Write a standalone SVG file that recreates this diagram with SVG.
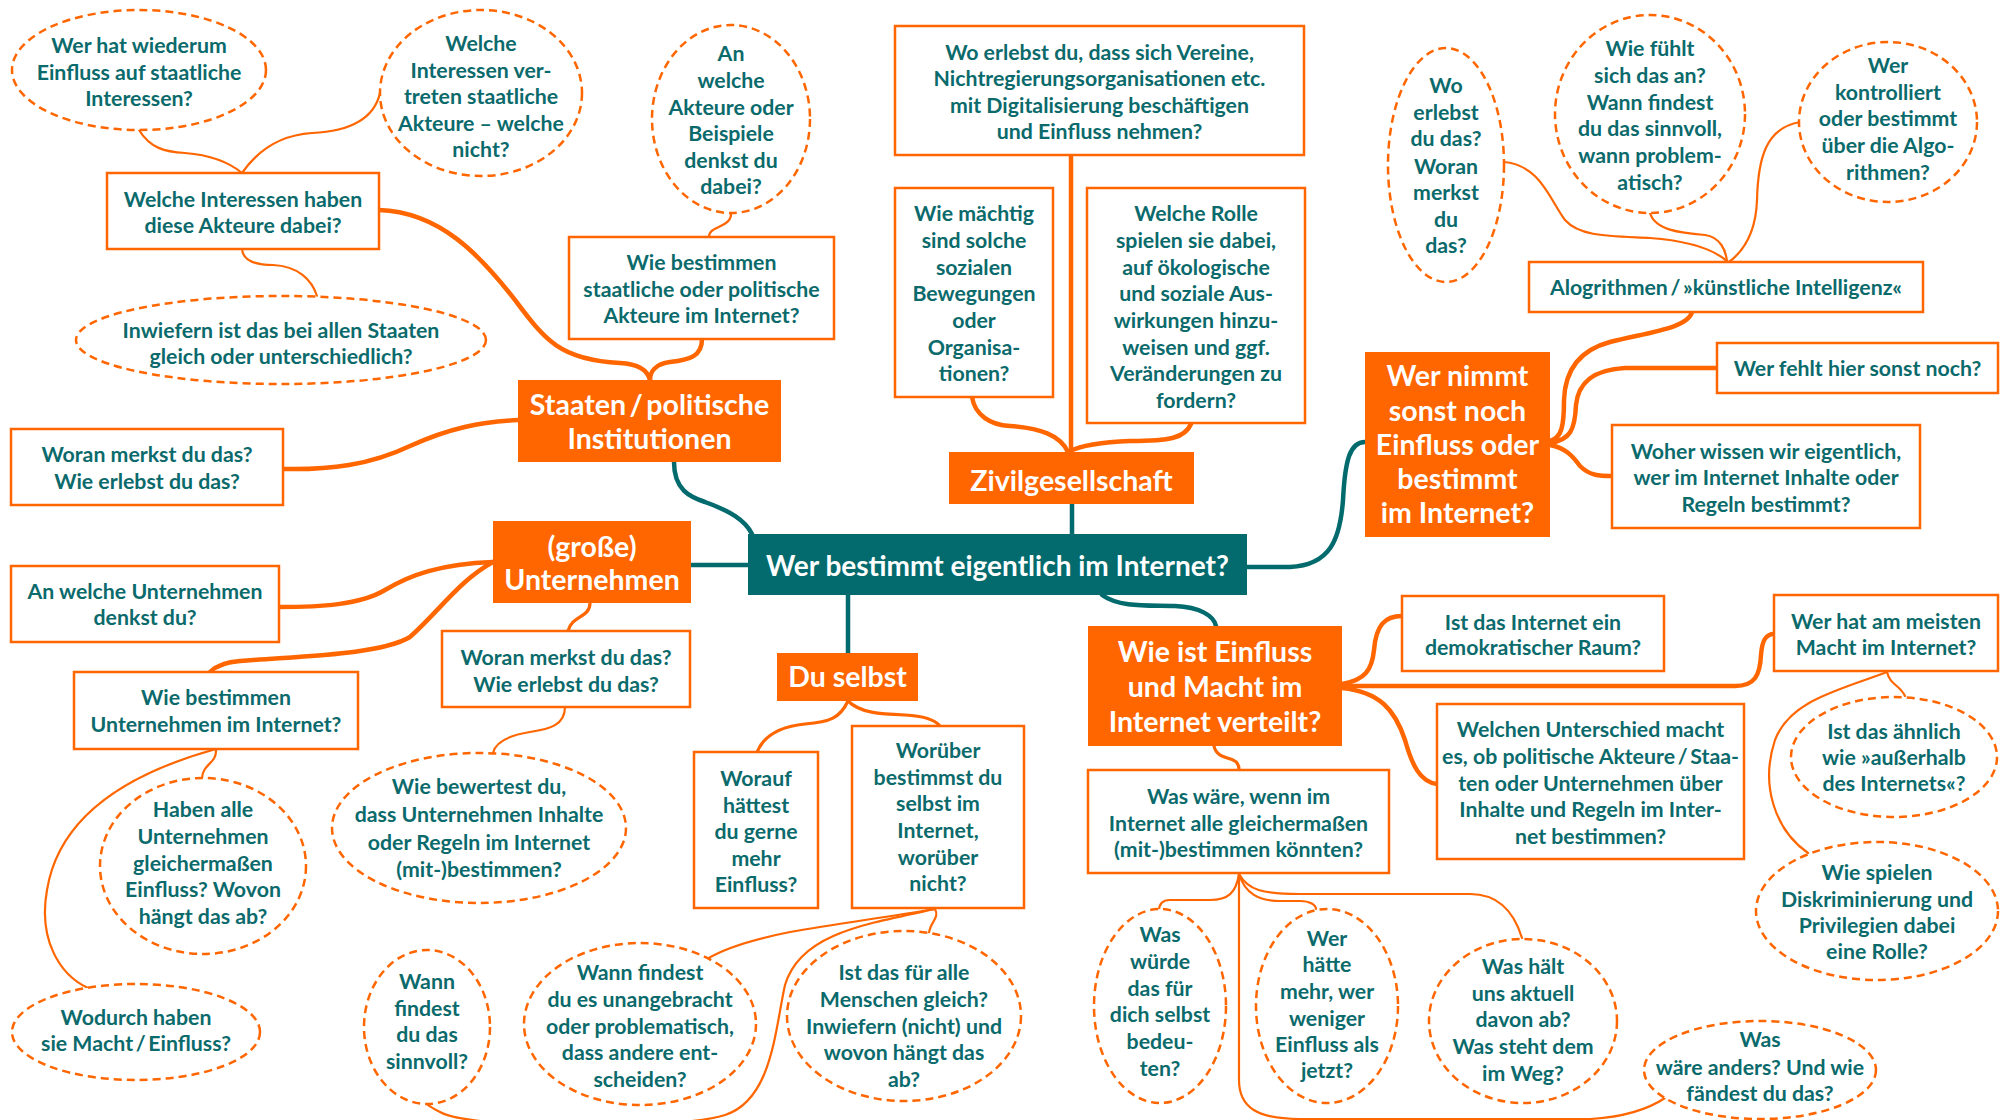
<svg xmlns="http://www.w3.org/2000/svg" width="2007" height="1120" viewBox="0 0 2007 1120">
<style>
text{font-family:Lato,"Open Sans","Liberation Sans",sans-serif;font-weight:700;font-size:21.3px;fill:#0b6a6b;text-anchor:middle}
.box{fill:#fff;stroke:#ff6600;stroke-width:2.5}
.ell{fill:#fff;stroke:#ff6600;stroke-width:2.5;stroke-dasharray:8 5}
.hub{fill:#ff6600}
.hubt{fill:#fff;font-size:28.5px}
.root{fill:#036b6d}
.roott{fill:#fff;font-size:28px}
#connectors path{fill:none;stroke-linecap:round}
.t{stroke:#036b6d;stroke-width:4.5}
.o1{stroke:#ff6600;stroke-width:4.5}
.o2{stroke:#ff6600;stroke-width:3.2}
.o3{stroke:#ff6600;stroke-width:2.2}
</style>
<rect width="2007" height="1120" fill="#fff"/>
<g id="connectors">
<path class="t" d="M674,462 C674,490 690,497 705,502 C730,511 745,520 752,534"/>
<path class="t" d="M691,565 L748,565"/>
<path class="t" d="M848,595 L848,653"/>
<path class="t" d="M1072,504 L1072,534"/>
<path class="t" d="M1247,567 L1290,567 C1330,565 1340,540 1343,500 C1345,460 1350,442 1365,442"/>
<path class="t" d="M1102,595 C1120,608 1150,605 1175,606 C1200,607 1214,616 1216,626"/>
<path class="o1" d="M379,210 C440,212 480,255 515,300 C545,340 560,360 620,363 C640,364 648,372 650,380"/>
<path class="o1" d="M702,339 C702,356 690,360 670,362 C655,364 650,372 650,380"/>
<path class="o1" d="M283,469 C330,470 370,465 410,446 C450,428 480,422 518,420"/>
<path class="o1" d="M493,562 C440,564 410,575 385,590 C360,605 320,607 279,607"/>
<path class="o1" d="M493,562 C460,580 440,610 410,637 C380,655 300,656 240,661 C225,662 215,667 210,672"/>
<path class="o2" d="M590,603 C590,618 572,615 568,631"/>
<path class="o1" d="M972,397 C975,415 990,425 1010,426 C1040,428 1060,435 1068,452"/>
<path class="o1" d="M1191,424 C1185,438 1170,441 1130,441 C1100,442 1080,446 1068,452"/>
<path class="o1" d="M1071,155 L1071,452"/>
<path class="o2" d="M848,701 C840,718 830,722 805,724 C775,727 762,740 757,752"/>
<path class="o2" d="M848,701 C860,713 880,714 905,715 C925,716 935,720 940,726"/>
<path class="o1" d="M1550,441 C1562,438 1564,425 1564,400 C1565,370 1580,350 1610,342 C1650,332 1688,328 1692,312"/>
<path class="o1" d="M1550,443 C1570,440 1575,430 1576,405 C1578,385 1590,370 1625,368 L1717,368"/>
<path class="o1" d="M1550,445 C1565,448 1572,455 1580,466 C1590,476 1600,476 1612,476"/>
<path class="o1" d="M1342,684 C1365,680 1372,670 1374,650 C1376,625 1385,616 1402,616"/>
<path class="o1" d="M1342,686 L1735,686 C1755,686 1760,675 1761,655 C1762,640 1766,634 1774,634"/>
<path class="o1" d="M1342,688 C1380,692 1395,710 1405,740 C1412,765 1420,782 1437,784"/>
<path class="o2" d="M1214,746 C1216,756 1225,757 1233,760 C1238,762 1239,766 1239,770"/>
<path class="o3" d="M139,130 C150,148 165,152 185,153 C210,155 230,163 242,173"/>
<path class="o3" d="M242,173 C258,150 280,135 312,133 C355,131 375,115 380,93"/>
<path class="o3" d="M242,249 C243,262 258,265 273,265 C298,266 312,280 317,296"/>
<path class="o3" d="M731,213 C732,224 718,226 713,230 C710,232 709,235 709,237"/>
<path class="o3" d="M1504,162 C1540,165 1550,200 1565,220 C1580,237 1610,236 1650,238 C1690,241 1715,250 1728,262"/>
<path class="o3" d="M1650,213 C1655,230 1680,233 1705,235 C1720,237 1726,250 1727,262"/>
<path class="o3" d="M1800,122 C1765,128 1758,160 1757,200 C1756,230 1745,250 1729,262"/>
<path class="o3" d="M565,707 C565,725 550,729 530,732 C505,736 495,744 493,753"/>
<path class="o3" d="M216,749 C217,764 203,763 202,778"/>
<path class="o3" d="M216,749 C140,770 60,810 47,890 C38,940 60,975 88,988"/>
<path class="o3" d="M935,909 C880,918 830,925 790,932 C750,940 725,948 707,959"/>
<path class="o3" d="M935,909 C940,918 930,922 929,933"/>
<path class="o3" d="M935,909 C860,925 800,935 785,985 C775,1030 772,1100 725,1115 C680,1130 470,1130 440,1112 C432,1108 429,1106 427,1104"/>
<path class="o3" d="M1239,874 C1236,893 1228,900 1210,900 L1170,900 C1162,900 1159,905 1159,911"/>
<path class="o3" d="M1239,874 C1245,893 1258,901 1280,901 L1300,901 C1310,901 1316,905 1316,909"/>
<path class="o3" d="M1239,874 C1248,890 1262,894 1300,894 L1470,894 C1500,894 1515,915 1522,938"/>
<path class="o3" d="M1239,874 L1239,1080 C1239,1108 1258,1119 1300,1119 L1590,1119 C1625,1117 1650,1108 1665,1098"/>
<path class="o3" d="M1887,672 C1890,685 1900,685 1905,696"/>
<path class="o3" d="M1887,672 C1840,690 1790,700 1775,740 C1760,785 1775,830 1808,853"/>
</g>

<g id="root"><rect class="root" x="748" y="534" width="499" height="61"/><text class="roott" x="997.5" y="576">Wer bestimmt eigentlich im Internet?</text></g>

<g id="staaten"><rect class="hub" x="518" y="380" width="263" height="82"/><text class="hubt"><tspan x="649.5" y="415">Staaten&#8201;/&#8201;politische</tspan><tspan x="649.5" y="449">Institutionen</tspan></text></g>
<g id="unternehmen"><rect class="hub" x="493" y="521" width="198" height="82"/><text class="hubt"><tspan x="592" y="557">(große)</tspan><tspan x="592" y="590">Unternehmen</tspan></text></g>
<g id="duselbst"><rect class="hub" x="777" y="653" width="141" height="48"/><text class="hubt" x="847.5" y="687">Du selbst</text></g>
<g id="zivil"><rect class="hub" x="949" y="452" width="245" height="52"/><text class="hubt" x="1071.5" y="491">Zivilgesellschaft</text></g>
<g id="wernimmt"><rect class="hub" x="1365" y="352" width="185" height="185"/><text class="hubt"><tspan x="1457.5" y="386">Wer nimmt</tspan><tspan x="1457.5" y="421">sonst noch</tspan><tspan x="1457.5" y="455">Einfluss oder</tspan><tspan x="1457.5" y="489">bestimmt</tspan><tspan x="1457.5" y="523">im Internet?</tspan></text></g>
<g id="verteilt"><rect class="hub" x="1088" y="626" width="254" height="120"/><text class="hubt"><tspan x="1215" y="662">Wie ist Einfluss</tspan><tspan x="1215" y="697">und Macht im</tspan><tspan x="1215" y="732">Internet verteilt?</tspan></text></g>

<g id="n1"><ellipse class="ell" cx="139" cy="70" rx="127" ry="60"/><text><tspan x="139" y="53">Wer hat wiederum</tspan><tspan x="139" y="80">Einfluss auf staatliche</tspan><tspan x="139" y="106">Interessen?</tspan></text></g>
<g id="n2"><ellipse class="ell" cx="481" cy="93" rx="101" ry="83"/><text><tspan x="481" y="51">Welche</tspan><tspan x="481" y="78">Interessen ver-</tspan><tspan x="481" y="104">treten staatliche</tspan><tspan x="481" y="131">Akteure – welche</tspan><tspan x="481" y="157">nicht?</tspan></text></g>
<g id="n3"><rect class="box" x="107" y="173" width="272" height="76"/><text><tspan x="243" y="207">Welche Interessen haben</tspan><tspan x="243" y="233">diese Akteure dabei?</tspan></text></g>
<g id="n4"><ellipse class="ell" cx="281" cy="340" rx="205" ry="44"/><text><tspan x="281" y="338">Inwiefern ist das bei allen Staaten</tspan><tspan x="281" y="364">gleich oder unterschiedlich?</tspan></text></g>
<g id="n5"><ellipse class="ell" cx="731" cy="119" rx="79" ry="94"/><text><tspan x="731" y="61">An</tspan><tspan x="731" y="88">welche</tspan><tspan x="731" y="115">Akteure oder</tspan><tspan x="731" y="141">Beispiele</tspan><tspan x="731" y="168">denkst du</tspan><tspan x="731" y="194">dabei?</tspan></text></g>
<g id="n6"><rect class="box" x="569" y="237" width="265" height="102"/><text><tspan x="701.5" y="270">Wie bestimmen</tspan><tspan x="701.5" y="297">staatliche oder politische</tspan><tspan x="701.5" y="323">Akteure im Internet?</tspan></text></g>
<g id="n7"><rect class="box" x="895" y="26" width="409" height="129"/><text><tspan x="1099.5" y="60">Wo erlebst du, dass sich Vereine,</tspan><tspan x="1099.5" y="86">Nichtregierungsorganisationen etc.</tspan><tspan x="1099.5" y="113">mit Digitalisierung beschäftigen</tspan><tspan x="1099.5" y="139">und Einfluss nehmen?</tspan></text></g>
<g id="n8"><rect class="box" x="895" y="188" width="158" height="209"/><text><tspan x="974" y="221">Wie mächtig</tspan><tspan x="974" y="248">sind solche</tspan><tspan x="974" y="275">sozialen</tspan><tspan x="974" y="301">Bewegungen</tspan><tspan x="974" y="328">oder</tspan><tspan x="974" y="355">Organisa-</tspan><tspan x="974" y="381">tionen?</tspan></text></g>
<g id="n9"><rect class="box" x="1087" y="188" width="218" height="235"/><text><tspan x="1196" y="221">Welche Rolle</tspan><tspan x="1196" y="248">spielen sie dabei,</tspan><tspan x="1196" y="275">auf ökologische</tspan><tspan x="1196" y="301">und soziale Aus-</tspan><tspan x="1196" y="328">wirkungen hinzu-</tspan><tspan x="1196" y="355">weisen und ggf.</tspan><tspan x="1196" y="381">Veränderungen zu</tspan><tspan x="1196" y="408">fordern?</tspan></text></g>
<g id="n10"><ellipse class="ell" cx="1446" cy="165" rx="58" ry="117"/><text><tspan x="1446" y="93">Wo</tspan><tspan x="1446" y="120">erlebst</tspan><tspan x="1446" y="146">du das?</tspan><tspan x="1446" y="174">Woran</tspan><tspan x="1446" y="200">merkst</tspan><tspan x="1446" y="227">du</tspan><tspan x="1446" y="253">das?</tspan></text></g>
<g id="n11"><ellipse class="ell" cx="1650" cy="114" rx="95" ry="99"/><text><tspan x="1650" y="56">Wie fühlt</tspan><tspan x="1650" y="83">sich das an?</tspan><tspan x="1650" y="110">Wann findest</tspan><tspan x="1650" y="136">du das sinnvoll,</tspan><tspan x="1650" y="163">wann problem-</tspan><tspan x="1650" y="190">atisch?</tspan></text></g>
<g id="n12"><ellipse class="ell" cx="1888" cy="122" rx="89" ry="80"/><text><tspan x="1888" y="73">Wer</tspan><tspan x="1888" y="100">kontrolliert</tspan><tspan x="1888" y="126">oder bestimmt</tspan><tspan x="1888" y="153">über die Algo-</tspan><tspan x="1888" y="180">rithmen?</tspan></text></g>
<g id="n13"><rect class="box" x="1529" y="262" width="394" height="50"/><text x="1726" y="295">Alogrithmen&#8201;/&#8201;»künstliche Intelligenz«</text></g>
<g id="n15"><rect class="box" x="1717" y="343" width="281" height="50"/><text x="1857.5" y="376">Wer fehlt hier sonst noch?</text></g>
<g id="n16"><rect class="box" x="1612" y="425" width="308" height="103"/><text><tspan x="1766" y="459">Woher wissen wir eigentlich,</tspan><tspan x="1766" y="485">wer im Internet Inhalte oder</tspan><tspan x="1766" y="512">Regeln bestimmt?</tspan></text></g>
<g id="n20"><rect class="box" x="11" y="429" width="272" height="76"/><text><tspan x="147" y="462">Woran merkst du das?</tspan><tspan x="147" y="489">Wie erlebst du das?</tspan></text></g>
<g id="n21"><rect class="box" x="11" y="566" width="268" height="76"/><text><tspan x="145" y="599">An welche Unternehmen</tspan><tspan x="145" y="625">denkst du?</tspan></text></g>
<g id="n22"><rect class="box" x="74" y="672" width="284" height="77"/><text><tspan x="216" y="705">Wie bestimmen</tspan><tspan x="216" y="732">Unternehmen im Internet?</tspan></text></g>
<g id="n23"><rect class="box" x="442" y="631" width="248" height="76"/><text><tspan x="566" y="665">Woran merkst du das?</tspan><tspan x="566" y="692">Wie erlebst du das?</tspan></text></g>
<g id="n23b"><ellipse class="ell" cx="479" cy="828" rx="147" ry="75"/><text><tspan x="479" y="794">Wie bewertest du,</tspan><tspan x="479" y="822">dass Unternehmen Inhalte</tspan><tspan x="479" y="850">oder Regeln im Internet</tspan><tspan x="479" y="877">(mit-)bestimmen?</tspan></text></g>
<g id="n24"><ellipse class="ell" cx="203" cy="866" rx="103" ry="88"/><text><tspan x="203" y="817">Haben alle</tspan><tspan x="203" y="844">Unternehmen</tspan><tspan x="203" y="871">gleichermaßen</tspan><tspan x="203" y="897">Einfluss? Wovon</tspan><tspan x="203" y="924">hängt das ab?</tspan></text></g>
<g id="n25"><ellipse class="ell" cx="136" cy="1032" rx="124" ry="48"/><text><tspan x="136" y="1025">Wodurch haben</tspan><tspan x="136" y="1051">sie Macht&#8201;/&#8201;Einfluss?</tspan></text></g>
<g id="n26"><ellipse class="ell" cx="427" cy="1027" rx="63" ry="77"/><text><tspan x="427" y="989">Wann</tspan><tspan x="427" y="1016">findest</tspan><tspan x="427" y="1042">du das</tspan><tspan x="427" y="1069">sinnvoll?</tspan></text></g>
<g id="n27"><rect class="box" x="694" y="752" width="124" height="156"/><text><tspan x="756" y="786">Worauf</tspan><tspan x="756" y="813">hättest</tspan><tspan x="756" y="839">du gerne</tspan><tspan x="756" y="866">mehr</tspan><tspan x="756" y="892">Einfluss?</tspan></text></g>
<g id="n28"><rect class="box" x="852" y="726" width="172" height="182"/><text><tspan x="938" y="758">Worüber</tspan><tspan x="938" y="785">bestimmst du</tspan><tspan x="938" y="811">selbst im</tspan><tspan x="938" y="838">Internet,</tspan><tspan x="938" y="865">worüber</tspan><tspan x="938" y="891">nicht?</tspan></text></g>
<g id="n29"><ellipse class="ell" cx="640" cy="1024" rx="116" ry="81"/><text><tspan x="640" y="980">Wann findest</tspan><tspan x="640" y="1007">du es unangebracht</tspan><tspan x="640" y="1034">oder problematisch,</tspan><tspan x="640" y="1060">dass andere ent-</tspan><tspan x="640" y="1087">scheiden?</tspan></text></g>
<g id="n30"><ellipse class="ell" cx="904" cy="1016" rx="117" ry="85"/><text><tspan x="904" y="980">Ist das für alle</tspan><tspan x="904" y="1007">Menschen gleich?</tspan><tspan x="904" y="1034">Inwiefern (nicht) und</tspan><tspan x="904" y="1060">wovon hängt das</tspan><tspan x="904" y="1087">ab?</tspan></text></g>
<g id="n32"><rect class="box" x="1402" y="596" width="262" height="75"/><text><tspan x="1533" y="630">Ist das Internet ein</tspan><tspan x="1533" y="655">demokratischer Raum?</tspan></text></g>
<g id="n33"><rect class="box" x="1774" y="595" width="224" height="76"/><text><tspan x="1886" y="629">Wer hat am meisten</tspan><tspan x="1886" y="655">Macht im Internet?</tspan></text></g>
<g id="n34"><rect class="box" x="1437" y="704" width="307" height="155"/><text><tspan x="1590.5" y="737">Welchen Unterschied macht</tspan><tspan x="1590.5" y="764">es, ob politische Akteure&#8201;/&#8201;Staa-</tspan><tspan x="1590.5" y="791">ten oder Unternehmen über</tspan><tspan x="1590.5" y="817">Inhalte und Regeln im Inter-</tspan><tspan x="1590.5" y="844">net bestimmen?</tspan></text></g>
<g id="n35"><rect class="box" x="1088" y="770" width="301" height="103"/><text><tspan x="1238.5" y="804">Was wäre, wenn im</tspan><tspan x="1238.5" y="831">Internet alle gleichermaßen</tspan><tspan x="1238.5" y="857">(mit-)bestimmen könnten?</tspan></text></g>
<g id="n36"><ellipse class="ell" cx="1160" cy="1006" rx="66" ry="97"/><text><tspan x="1160" y="942">Was</tspan><tspan x="1160" y="969">würde</tspan><tspan x="1160" y="996">das für</tspan><tspan x="1160" y="1022">dich selbst</tspan><tspan x="1160" y="1049">bedeu-</tspan><tspan x="1160" y="1076">ten?</tspan></text></g>
<g id="n37"><ellipse class="ell" cx="1327" cy="1006" rx="71" ry="97"/><text><tspan x="1327" y="946">Wer</tspan><tspan x="1327" y="972">hätte</tspan><tspan x="1327" y="999">mehr, wer</tspan><tspan x="1327" y="1026">weniger</tspan><tspan x="1327" y="1052">Einfluss als</tspan><tspan x="1327" y="1078">jetzt?</tspan></text></g>
<g id="n38"><ellipse class="ell" cx="1523" cy="1021" rx="94" ry="82"/><text><tspan x="1523" y="974">Was hält</tspan><tspan x="1523" y="1001">uns aktuell</tspan><tspan x="1523" y="1027">davon ab?</tspan><tspan x="1523" y="1054">Was steht dem</tspan><tspan x="1523" y="1081">im Weg?</tspan></text></g>
<g id="n39"><ellipse class="ell" cx="1760" cy="1070" rx="116" ry="49"/><text><tspan x="1760" y="1047">Was</tspan><tspan x="1760" y="1075">wäre anders? Und wie</tspan><tspan x="1760" y="1101">fändest du das?</tspan></text></g>
<g id="n40"><ellipse class="ell" cx="1894" cy="757" rx="103" ry="60"/><text><tspan x="1894" y="739">Ist das ähnlich</tspan><tspan x="1894" y="765">wie »außerhalb</tspan><tspan x="1894" y="791">des Internets«?</tspan></text></g>
<g id="n41"><ellipse class="ell" cx="1877" cy="911" rx="121" ry="69"/><text><tspan x="1877" y="880">Wie spielen</tspan><tspan x="1877" y="907">Diskriminierung und</tspan><tspan x="1877" y="933">Privilegien dabei</tspan><tspan x="1877" y="959">eine Rolle?</tspan></text></g>
</svg>
